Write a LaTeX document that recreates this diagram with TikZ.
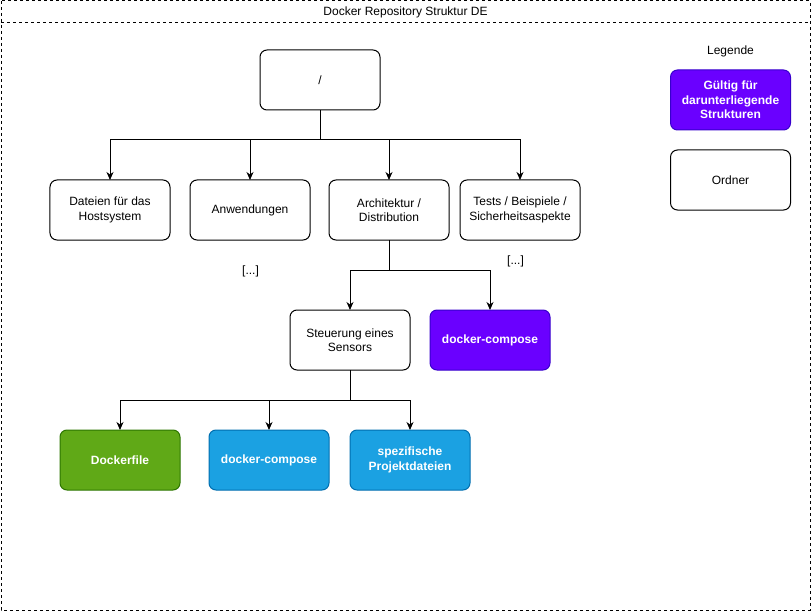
\documentclass[tikz,border=0pt]{standalone}
\usepackage{fontspec}
\setmainfont{Liberation Sans}
\usetikzlibrary{positioning,calc,arrows.meta}
\definecolor{violett}{HTML}{6A00FF}
\definecolor{violettrand}{HTML}{3700CC}
\definecolor{gruen}{HTML}{60A917}
\definecolor{gruenrand}{HTML}{2D7600}
\definecolor{blau}{HTML}{1BA1E2}
\definecolor{blaurand}{HTML}{006EAF}
\def\txt{\fontsize{12bp}{14.4bp}\selectfont}

\begin{document}
\begin{tikzpicture}[x=1bp, y=-1bp, line width=1bp,
  ordner/.style={draw, rounded corners=7bp, minimum width=120bp, minimum height=60bp,
    inner sep=0pt, outer sep=0pt, align=center, font=\txt},
  gueltig/.style={ordner, fill=violett, draw=violettrand, text=white, font=\txt\bfseries},
  docker/.style={ordner, fill=gruen, draw=gruenrand, text=white, font=\txt\bfseries},
  projekt/.style={ordner, fill=blau, draw=blaurand, text=white, font=\txt\bfseries},
  rahmen/.style={draw, dash pattern=on 3bp off 3bp},
  pfeil/.style={-{Stealth[length=8bp, width=7bp, inset=2.5bp]}}]
\useasboundingbox (0,0) rectangle (811,611);
% frame with title bar
\draw[rahmen] (1,1) rectangle (810,610);
\draw[rahmen] (1,23) -- (810,23);
\node[font=\txt] (titel) at (405.5,12.5) {Docker Repository Struktur DE};
% tree
\node[ordner] (root) at (320,80) {/};
\node[ordner] (host) at (110,210) {Dateien für das\\Hostsystem};
\node[ordner, right=20bp of host] (apps) {Anwendungen};
\node[ordner, right=19bp of apps] (arch) {Architektur /\\Distribution};
\node[ordner, right=11bp of arch] (tests) {Tests / Beispiele /\\Sicherheitsaspekte};
\node[font=\txt] (appsmore) at (250.5,271.5) {[...]};
\node[font=\txt] (testsmore) at (515.5,261) {[...]};
\node[ordner, below=70bp of arch, xshift=-39bp] (sensor) {Steuerung eines\\Sensors};
\node[gueltig, right=20bp of sensor] (compose) {docker-compose};
\node[docker] (dfile) at (120,460) {Dockerfile};
\node[projekt, right=29bp of dfile] (scompose) {docker-compose};
\node[projekt, right=21bp of scompose] (files) {spezifische\\Projektdateien};
% legend
\node[font=\txt] (legende) at (730.5,51) {Legende};
\node[gueltig] (legvalid) at (730.5,100) {Gültig für\\darunterliegende\\Strukturen};
\node[ordner, below=20bp of legvalid] (legordner) {Ordner};
% connectors
\coordinate[below=30bp of root] (rootfork);
\coordinate[below=30bp of arch] (archfork);
\coordinate[below=30bp of sensor] (sensorfork);
\draw (root) -- (rootfork);
\foreach \n in {host,apps,arch,tests}
  \draw[pfeil] (rootfork) -| (\n);
\draw (arch) -- (archfork);
\foreach \n in {sensor,compose}
  \draw[pfeil] (archfork) -| (\n);
\draw (sensor) -- (sensorfork);
\foreach \n in {dfile,scompose,files}
  \draw[pfeil] (sensorfork) -| (\n);
\end{tikzpicture}
\end{document}
